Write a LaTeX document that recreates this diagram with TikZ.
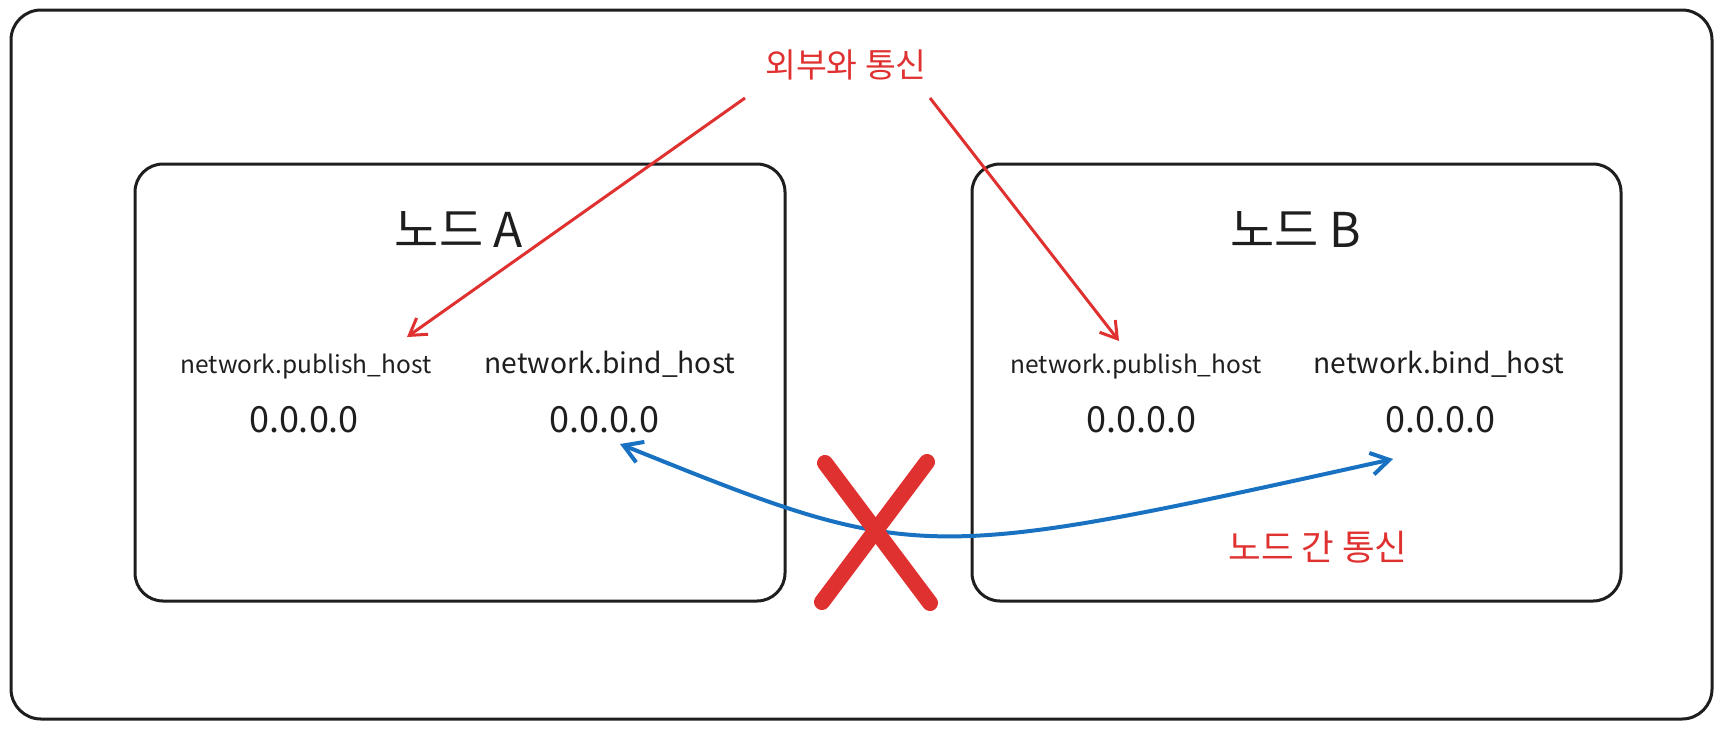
\documentclass[tikz,border=0pt]{standalone}
\usepackage{fontspec}
\setmainfont{Noto Sans CJK KR}
\usetikzlibrary{arrows.meta}
\definecolor{exred}{HTML}{E03131}
\definecolor{exblue}{HTML}{1971C2}
\definecolor{exblack}{HTML}{1E1E1E}
\begin{document}
\begin{tikzpicture}[x=1pt,y=-1pt,
  framebox/.style={draw=exblack, line width=3pt, rounded corners=28pt, inner sep=0pt},
  txt/.style={text=exblack, inner sep=0pt, anchor=center},
  redtxt/.style={text=exred, inner sep=0pt, anchor=center},
  titletxt/.style={txt, font=\fontsize{48pt}{54pt}\selectfont},
  pubtxt/.style={txt, font=\fontsize{24.5pt}{30pt}\selectfont},
  bindtxt/.style={txt, font=\fontsize{28.2pt}{34pt}\selectfont},
  iptxt/.style={txt, font=\fontsize{36pt}{42pt}\selectfont},
  redarrow/.style={draw=exred, line width=3pt, -{Straight Barb[length=16pt,width=20pt,line width=3pt]}},
  bluearrow/.style={draw=exblue, line width=4pt, {Straight Barb[length=18pt,width=22pt,line width=4pt]}-{Straight Barb[length=18pt,width=22pt,line width=4pt]}},
  crossline/.style={draw=exred, line width=16pt, line cap=round}
]
\useasboundingbox (0,0) rectangle (1723,729);

% frames
\node[framebox, rounded corners=30pt, minimum width=1701pt, minimum height=709pt] (outer) at (861.5,364.5) {};
\node[framebox, minimum width=650pt, minimum height=437pt] (boxA) at (460,382.5) {};
\node[framebox, minimum width=649pt, minimum height=437pt] (boxB) at (1296.5,382.5) {};

% texts
\node[redtxt, font=\fontsize{33.5pt}{40pt}\selectfont] (ext) at (846,65) {외부와 통신};
\node[titletxt] (titleA) at (459,229) {노드 A};
\node[titletxt] (titleB) at (1296,229) {노드 B};

\node[pubtxt] (pubA) at (306,366.5) {network.publish\_host};
\node[bindtxt] (bindA) at (610,364) {network.bind\_host};
\node[iptxt] (ipA1) at (304,420) {0.0.0.0};
\node[iptxt] (ipA2) at (604,420) {0.0.0.0};

\node[pubtxt] (pubB) at (1136,366.5) {network.publish\_host};
\node[bindtxt] (bindB) at (1439,364) {network.bind\_host};
\node[iptxt] (ipB1) at (1141,420) {0.0.0.0};
\node[iptxt] (ipB2) at (1440,420) {0.0.0.0};

\node[redtxt, font=\fontsize{35.5pt}{42pt}\selectfont] (inter) at (1318,547) {노드 간 통신};

% red arrows
\coordinate (extL) at (745,98);
\coordinate (extR) at (930,98);
\coordinate (tipA) at (407,337);
\coordinate (tipB) at (1119,341);
\draw[redarrow] (extL) -- (tipA);
\draw[redarrow] (extR) -- (tipB);

% blue arrow
\coordinate (blueA) at (620,444);
\coordinate (blueB) at (1393,459);
\draw[bluearrow] (blueA) .. controls (918,564) and (918,564) .. (blueB);

% cross
\draw[crossline] (825,463) -- (930,603);
\draw[crossline] (927,462) -- (822,602);
\end{tikzpicture}
\end{document}
